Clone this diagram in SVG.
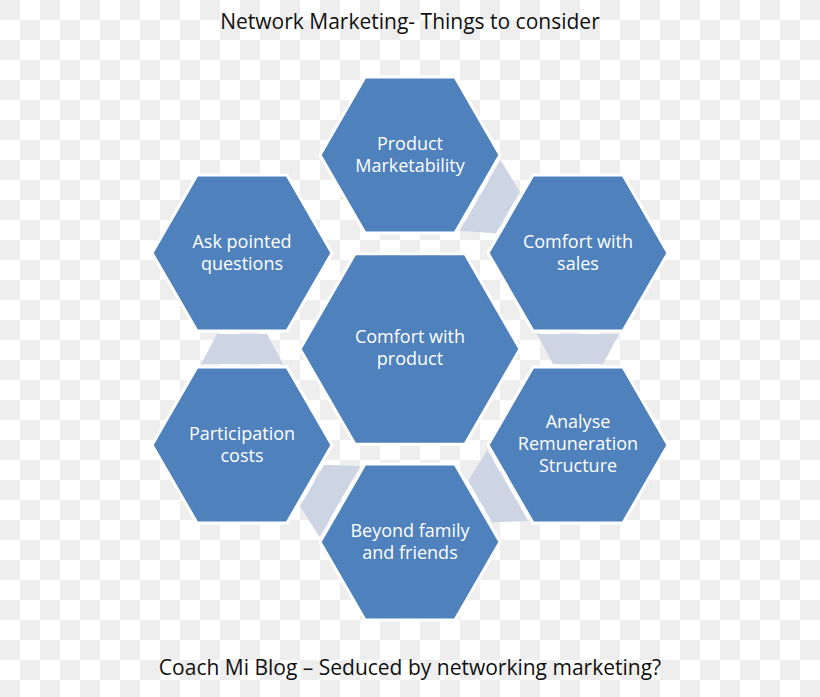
<svg xmlns="http://www.w3.org/2000/svg" width="820" height="697" viewBox="0 0 820 697">
  <defs>
    <pattern id="checker" x="0" y="0" width="40" height="40" patternUnits="userSpaceOnUse">
      <rect x="0" y="0" width="40" height="40" fill="#ffffff"/>
      <rect x="0" y="0" width="20" height="20" fill="#eeeeee"/>
      <rect x="20" y="20" width="20" height="20" fill="#eeeeee"/>
    </pattern>
    <style>
      .hex { fill: #4f81bd; stroke: #ffffff; stroke-width: 3; stroke-linejoin: miter; }
      .conn { fill: #cdd5e5; stroke: none; }
      .lbl { font-family: "Open Sans", "Liberation Sans", sans-serif; font-size: 18px; fill: #ffffff; text-anchor: middle; }
      .cap { font-family: "Open Sans", "Liberation Sans", sans-serif; fill: #111111; text-anchor: middle; }
    </style>
  </defs>
  <rect x="0" y="0" width="820" height="697" fill="url(#checker)"/>

  <text class="cap" x="410" y="29" font-size="21">Network Marketing- Things to consider</text>
  <text class="cap" x="410" y="675" font-size="21">Coach Mi Blog – Seduced by networking marketing?</text>

  <g id="connectors">
    <polygon class="conn" points="500.6,160 519.9,191.8 495.9,233.3 459.6,231"/>
    <polygon class="conn" points="537,334 619,334 603,364 553,364"/>
    <polygon class="conn" points="487.4,450 528.4,521 492.1,522.3 468.1,480.8"/>
    <polygon class="conn" points="360.4,466 319.4,537 300.1,506.3 324.1,464.7"/>
    <polygon class="conn" points="201,364 283,364 267,334 217,334"/>
  </g>

  <g id="product-marketability">
    <polygon class="hex" points="320,155 365,77.06 455,77.06 500,155 455,232.94 365,232.94"/>
    <text class="lbl" x="410" y="150">Product</text>
    <text class="lbl" x="410" y="172">Marketability</text>
  </g>
  <g id="ask-pointed-questions">
    <polygon class="hex" points="152,253 197,175.06 287,175.06 332,253 287,330.94 197,330.94"/>
    <text class="lbl" x="242" y="248">Ask pointed</text>
    <text class="lbl" x="242" y="270">questions</text>
  </g>
  <g id="comfort-with-sales">
    <polygon class="hex" points="488,253 533,175.06 623,175.06 668,253 623,330.94 533,330.94"/>
    <text class="lbl" x="578" y="248">Comfort with</text>
    <text class="lbl" x="578" y="270">sales</text>
  </g>
  <g id="comfort-with-product">
    <polygon class="hex" points="300,349 355,253.74 465,253.74 520,349 465,444.26 355,444.26"/>
    <text class="lbl" x="410" y="343">Comfort with</text>
    <text class="lbl" x="410" y="365">product</text>
  </g>
  <g id="participation-costs">
    <polygon class="hex" points="152,445 197,367.06 287,367.06 332,445 287,522.94 197,522.94"/>
    <text class="lbl" x="242" y="440">Participation</text>
    <text class="lbl" x="242" y="462">costs</text>
  </g>
  <g id="analyse-remuneration-structure">
    <polygon class="hex" points="488,445 533,367.06 623,367.06 668,445 623,522.94 533,522.94"/>
    <text class="lbl" x="578" y="428">Analyse</text>
    <text class="lbl" x="578" y="450">Remuneration</text>
    <text class="lbl" x="578" y="472">Structure</text>
  </g>
  <g id="beyond-family-and-friends">
    <polygon class="hex" points="320,542 365,464.06 455,464.06 500,542 455,619.94 365,619.94"/>
    <text class="lbl" x="410" y="537">Beyond family</text>
    <text class="lbl" x="410" y="559">and friends</text>
  </g>
</svg>
